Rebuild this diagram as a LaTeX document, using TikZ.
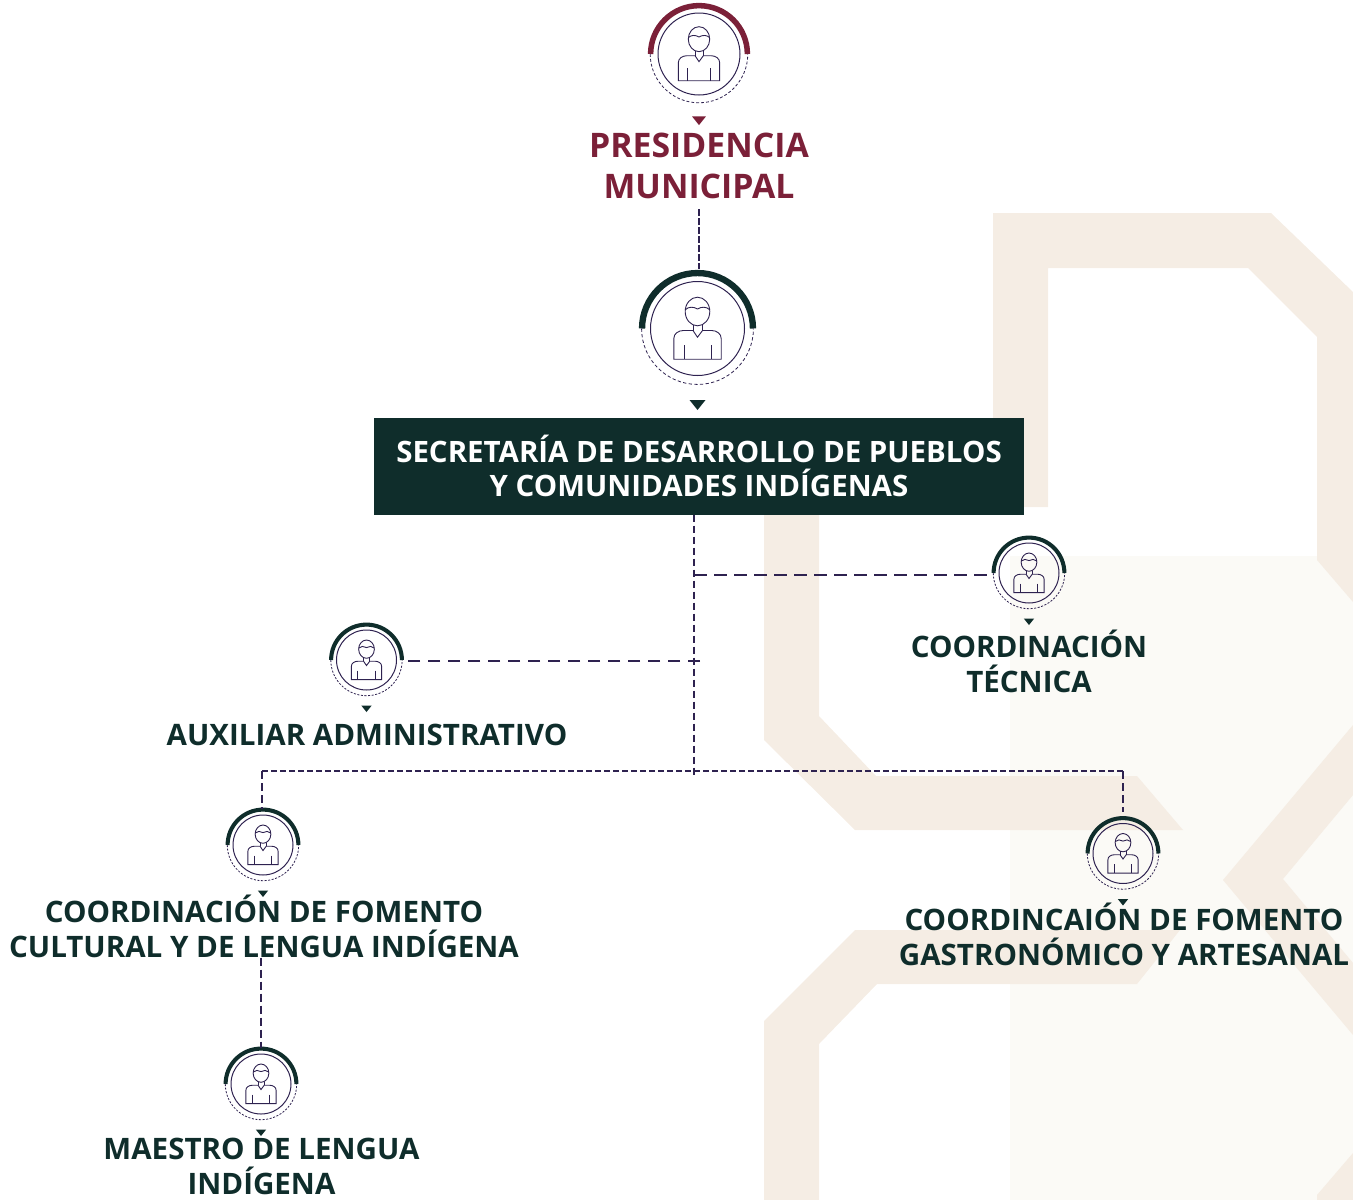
\documentclass[tikz,border=0pt]{standalone}
\usepackage{fontspec}
\usepackage{tikz}
\setmainfont{Open Sans}
\definecolor{wine}{HTML}{7B2038}
\definecolor{pine}{HTML}{0F2D2B}
\definecolor{ink}{HTML}{2E2250}
\definecolor{sand}{HTML}{F5EDE4}
\definecolor{paper}{HTML}{FBFAF6}
\tikzset{
  band/.style={fill=sand,draw=none},
  dashtrunk/.style={draw=ink,line width=1.9pt,dash pattern=on 7pt off 4pt},
  dashlong/.style={draw=ink,line width=1.9pt,dash pattern=on 12.5pt off 7.5pt},
  dashbus/.style={draw=ink,line width=1.7pt,dash pattern=on 5.5pt off 3.5pt},
  dashdrop/.style={draw=ink,line width=2pt,dash pattern=on 8pt off 4pt},
  dashfine/.style={draw=ink,line width=2.5pt,dash pattern=on 6.5pt off 2.5pt},
  lbl/.style={text=pine,align=center,inner sep=0pt,font=\bfseries\fontsize{29.55}{35}\selectfont},
}
\newcommand{\pnode}[4]{
  \pgfmathsetmacro{\ra}{#3*1.18}
  \pgfmathsetmacro{\rd}{#3*1.19}
  \pgfmathsetmacro{\wa}{#3*0.135}
  \pgfmathsetmacro{\don}{#3*0.07}
  \pgfmathsetmacro{\doff}{#3*0.05}
  \pgfmathsetmacro{\ps}{#3/47}
  \node [circle,inner sep=0pt,minimum size=2.4*#3 pt] (#1) at (#2) {};
  \draw [ink,line width=1pt] (#2) circle [radius=#3 pt];
  \draw [#4,line width=\wa pt] (#2) ++(180:\ra pt) arc [start angle=180,end angle=0,radius=\ra pt];
  \draw [ink,line width=0.8pt,dash pattern=on \don pt off \doff pt] (#2) ++(180:\rd pt) arc [start angle=180,end angle=360,radius=\rd pt];
  \begin{scope}[shift={(#2)},scale=\ps]
    \draw [ink,line width=0.9pt] (0,-17) ellipse [x radius=12.3,y radius=14.3];
    \draw [ink,line width=0.9pt] (-12.3,-18.7) .. controls (-9,-22) and (-4,-22) .. (0,-19.5) .. controls (4,-22) and (9,-22) .. (12.3,-18.7);
    \draw [ink,line width=0.9pt] (-23.7,30.7) -- (-23.7,10) .. controls (-23.7,5) and (-19,2) .. (-14,2) -- (-4.5,2) -- (0,8.7) -- (5,2) -- (14,2) .. controls (19,2) and (23.7,5) .. (23.7,10) -- (23.7,30.7) -- cycle;
    \draw [ink,line width=0.9pt] (-4.5,-3.5) -- (-4.5,2);
    \draw [ink,line width=0.9pt] (5,-3.5) -- (5,2);
    \draw [ink,line width=0.9pt] (-13.5,16.5) -- (-13.5,30.7);
    \draw [ink,line width=0.9pt] (13.5,16.5) -- (13.5,30.7);
    \fill [#4] (-8,71.5) -- (8,71.5) -- (0,81.5) -- cycle;
  \end{scope}
}

\begin{document}
\begin{tikzpicture}[x=1pt,y=-1pt]
\useasboundingbox (0,0) rectangle (1353,1200);

\fill [paper] (1010,556) rectangle (1353,1200);
\fill [band] (993,213) -- (1271,213) -- (1353,292) -- (1353,602) -- (1317,560) -- (1317,337) -- (1248,268) -- (1048,268) -- (1048,507) -- (993,507) -- cycle;
\fill [band] (764,510) -- (819,510) -- (819,716) -- (876,776) -- (1137,776) -- (1183,830) -- (855,830) -- (764,740) -- cycle;
\fill [band] (764,1200) -- (819,1200) -- (819,1044) -- (877,984) -- (1137,984) -- (1180,930) -- (855,930) -- (764,1021) -- cycle;
\fill [band] (1353,725) -- (1223,880) -- (1353,1035) -- (1353,963) -- (1283,879) -- (1353,795) -- cycle;
\fill [band] (1353,1153) -- (1317,1195) -- (1317,1200) -- (1353,1200) -- cycle;

\pnode{PRESI}{699,54}{41}{wine};
\pnode{SECRE}{697.5,328.5}{47}{pine};
\pnode{TECNI}{1029,573}{30}{pine};
\pnode{AUXIL}{366.5,660}{30}{pine};
\pnode{CULTU}{263,845}{30}{pine};
\pnode{GASTR}{1123,853.5}{30}{pine};
\pnode{MAEST}{261,1084}{30}{pine};

\node [lbl,text=wine,font=\bfseries\fontsize{33.8}{41}\selectfont] (PRESItxt) at (699,166) {PRESIDENCIA\\MUNICIPAL};
\node [fill=pine,text=white,align=center,inner sep=0pt,minimum width=650pt,minimum height=97pt,font=\bfseries\fontsize{29.45}{35}\selectfont] (SECREbox) at (699,466) {SECRETARÍA DE DESARROLLO DE PUEBLOS\\[-0.5pt]Y COMUNIDADES INDÍGENAS};
\node [lbl] (TECNItxt) at (1029,661) {COORDINACIÓN\\TÉCNICA};
\node [lbl] (AUXILtxt) at (367,735) {AUXILIAR ADMINISTRATIVO};
\node [lbl] (CULTUtxt) at (264,926) {COORDINACIÓN DE FOMENTO\\CULTURAL Y DE LENGUA INDÍGENA};
\node [lbl] (GASTRtxt) at (1124,934.5) {COORDINCAIÓN DE FOMENTO\\GASTRONÓMICO Y ARTESANAL};
\node [lbl] (MAESTtxt) at (261.5,1166.5) {MAESTRO DE LENGUA\\INDÍGENA};

\coordinate (TRUNK) at (694,775);
\coordinate (BUS) at (694,771);
\coordinate (TECjoin) at (694,575);
\coordinate (AUXjoin) at (700,661);

\draw [dashfine,shorten <=10pt,shorten >=3pt] (PRESItxt.south) -- (PRESItxt.south |- SECRE.north);
\draw [dashtrunk] (TRUNK |- SECREbox.south) -- (TRUNK);
\draw [dashlong] (TECjoin) -- (TECjoin -| TECNI.west);
\draw [dashlong,shorten >=2pt] (AUXjoin) -- (AUXIL.east |- AUXjoin);
\draw [dashbus] ([xshift=-1pt]CULTU.north |- BUS) -- (GASTR.north |- BUS);
\draw [dashdrop] ([xshift=-1pt]CULTU.north |- BUS) -- ([xshift=-1pt]CULTU.north);
\draw [dashdrop,shorten >=5pt] (GASTR.north |- BUS) -- (GASTR.north);
\draw [dashdrop] (MAEST.north |- CULTUtxt.south) -- (MAEST.north);

\end{tikzpicture}
\end{document}
